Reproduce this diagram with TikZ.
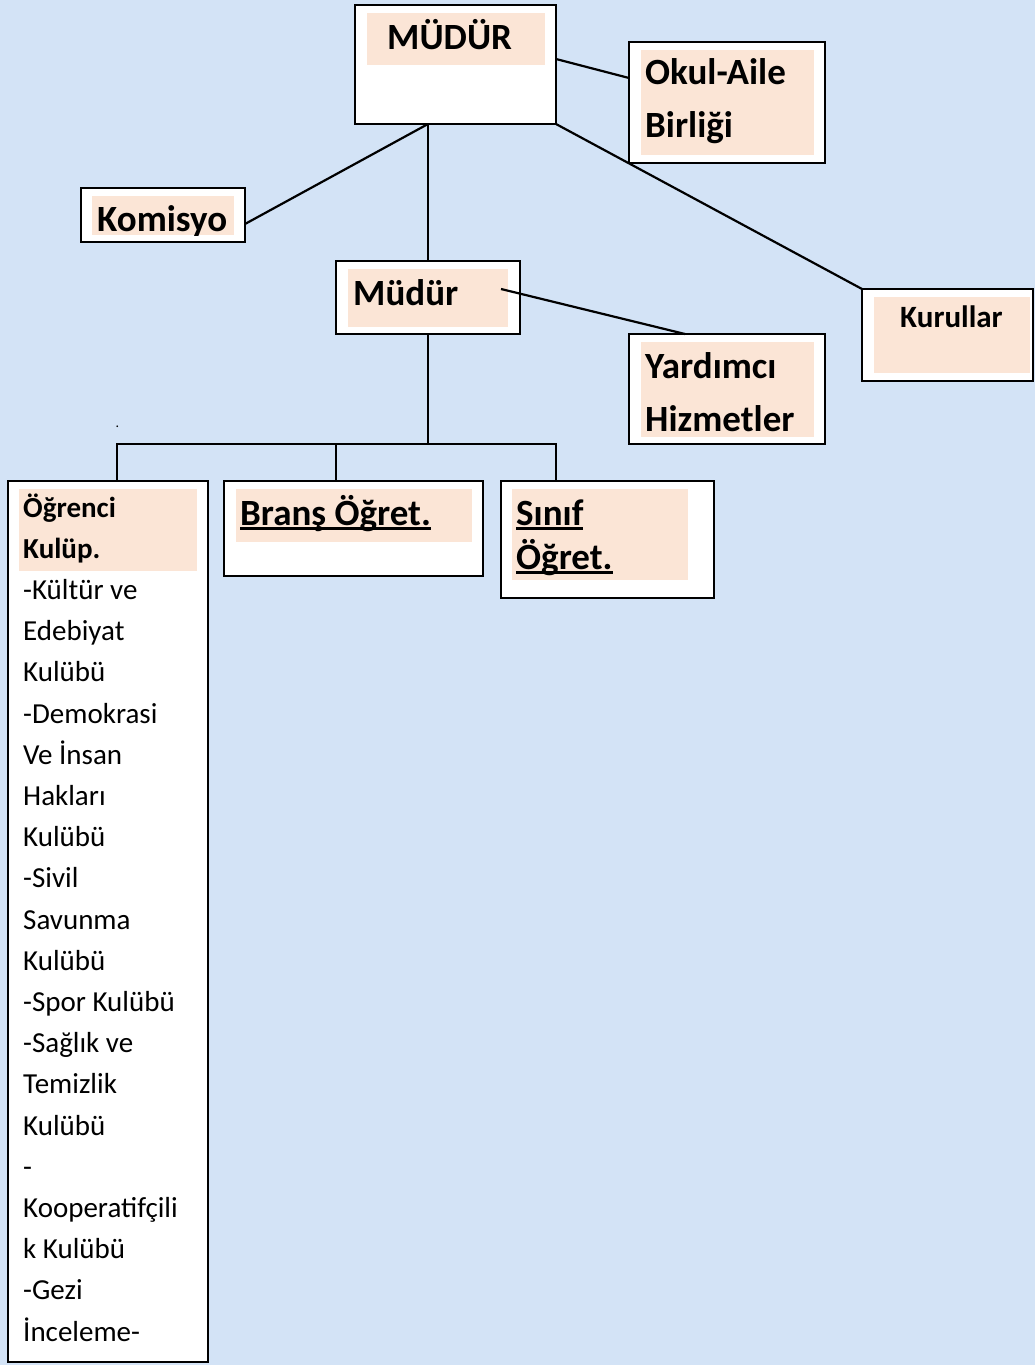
\documentclass[tikz,border=0pt]{standalone}
\usepackage{fontspec}
\setmainfont{Carlito}
\definecolor{bgblue}{RGB}{211,227,246}
\definecolor{peach}{RGB}{251,229,214}
\newcommand\myul[1]{\setbox0\hbox{#1}\rlap{\rule[-5pt]{\wd0}{2.6pt}}\box0}
\begin{document}
\begin{tikzpicture}[x=1pt,y=-1pt,
  box/.style={draw=black,line width=2.4pt,fill=white,anchor=north west,inner sep=0pt,outer sep=0pt},
  hl/.style={fill=peach,anchor=north west,inner sep=0pt,outer sep=0pt},
  bigtxt/.style={anchor=base west,inner sep=0pt,font=\fontsize{37}{44}\selectfont\bfseries},
  midtxt/.style={anchor=base west,inner sep=0pt,font=\fontsize{31}{38}\selectfont\bfseries},
  listtxt/.style={anchor=base west,inner sep=0pt,font=\fontsize{29}{35}\selectfont},
  listhead/.style={listtxt,font=\fontsize{29}{35}\selectfont\bfseries},
  conn/.style={line width=2.2pt}]
\fill[bgblue] (0,0) rectangle (1035,1365);
\useasboundingbox (0,0) rectangle (1035,1365);

% boxes
\node[box,minimum width=201pt,minimum height=119pt] (top) at (355,5) {};
\node[box,minimum width=196pt,minimum height=121pt] (okul) at (629,42) {};
\node[box,minimum width=164pt,minimum height=54pt] (komis) at (81,188) {};
\node[box,minimum width=184pt,minimum height=73pt] (mid) at (336,261) {};
\node[box,minimum width=196pt,minimum height=110pt] (yard) at (629,334) {};
\node[box,minimum width=171pt,minimum height=92pt] (kurul) at (862,289) {};
\node[box,minimum width=200pt,minimum height=881pt] (ogr) at (8,481) {};
\node[box,minimum width=259pt,minimum height=95pt] (brans) at (224,481) {};
\node[box,minimum width=213pt,minimum height=117pt] (sinif) at (501,481) {};

% highlights
\node[hl,minimum width=178pt,minimum height=52pt] (hltop) at (367,13) {};
\node[hl,minimum width=173pt,minimum height=105pt] (hlokul) at (641,50) {};
\node[hl,minimum width=142pt,minimum height=39pt] (hlkomis) at (92,196) {};
\node[hl,minimum width=160pt,minimum height=58pt] (hlmid) at (348,269) {};
\node[hl,minimum width=173pt,minimum height=95pt] (hlyard) at (641,342) {};
\node[hl,minimum width=156pt,minimum height=76pt] (hlkurul) at (874,297) {};
\node[hl,minimum width=178pt,minimum height=82pt] (hlogr) at (19,489) {};
\node[hl,minimum width=236pt,minimum height=53pt] (hlbrans) at (236,489) {};
\node[hl,minimum width=176pt,minimum height=91pt] (hlsinif) at (512,489) {};

% texts
\node[bigtxt] (t1) at (387,49) {MÜDÜR};
\node[bigtxt] (t2) at (645,84) {Okul-Aile};
\node[bigtxt] (t3) at (645,137) {Birliği};
\begin{scope}
  \clip (92,196) rectangle (234,235);
  \node[bigtxt] (t4) at (97,231) {Komisyo};
\end{scope}
\node[bigtxt] (t5) at (353,305) {Müdür};
\node[bigtxt] (t6) at (645,378) {Yardımcı};
\node[bigtxt] (t7) at (645,431) {Hizmetler};
\node[midtxt] (t8) at (900,327) {Kurullar};
\node[bigtxt] (t9) at (240,525) {\myul{Branş Öğret.}};
\node[bigtxt] (t10) at (516,525) {\myul{Sınıf}};
\node[bigtxt] (t11) at (516,569) {\myul{Öğret.}};
\node[listtxt] (dot) at (115.5,427) {\fontsize{14}{16}\selectfont .};

\node[listhead] (l0) at (23,517) {Öğrenci};
\node[listhead] (l1) at (23,558.2) {Kulüp.};
\foreach \s [count=\i from 2] in {-Kültür ve,Edebiyat,Kulübü,-Demokrasi,Ve İnsan,Hakları,Kulübü,-Sivil,Savunma,Kulübü,-Spor Kulübü,-Sağlık ve,Temizlik,Kulübü,-,Kooperatifçili,k Kulübü,-Gezi,İnceleme-}
  \node[listtxt] (l\i) at (23,{517+41.2*\i}) {\s};

% connectors
\coordinate (topfoot) at (428,124);
\coordinate (midin) at (501,289);
\coordinate (bus) at (428,444);
\draw[conn] ([yshift=-54pt]top.north east) -- ([yshift=-36pt]okul.north west);
\draw[conn] (topfoot) -- ([yshift=-9pt]komis.east);
\draw[conn] (topfoot) -- (mid.north);
\draw[conn] (top.south east) -- (kurul.north west);
\draw[conn] (midin) -- ([xshift=56pt]yard.north west);
\draw[conn] (mid.south) -- (bus);
\draw[conn] (bus) -| ([xshift=109pt]ogr.north west);
\draw[conn] (bus) -| ([xshift=112pt]brans.north west);
\draw[conn] (bus) -| ([xshift=55pt]sinif.north west);
\end{tikzpicture}
\end{document}
